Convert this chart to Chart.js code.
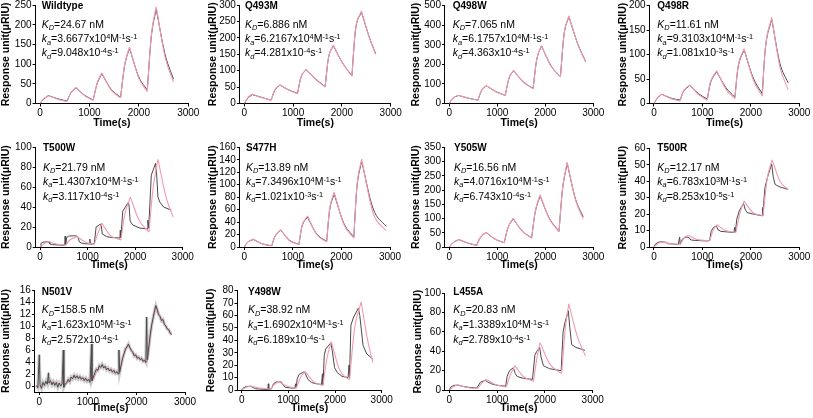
<!DOCTYPE html>
<html><head><meta charset="utf-8">
<script src="https://cdn.jsdelivr.net/npm/chart.js@4.4.0/dist/chart.umd.min.js"></script>
<style>
html,body{margin:0;padding:0;background:#fff;}
body{width:813px;height:418px;position:relative;overflow:hidden;font-family:'Liberation Sans',Arial,Helvetica,sans-serif;}
canvas{position:absolute;}
.lbl{position:absolute;white-space:nowrap;line-height:1;color:#000;font-size:10.5px;}
.nm{font-weight:bold;font-size:10px;}
.sb,.sp{position:relative;font-size:70%;line-height:1;}
.sb{top:0.3em}.sp{top:-0.45em}
</style></head><body>
<script>
// ---------- text ----------
const panelNames = ['Wildtype','Q493M','Q498W','Q498R','T500W','S477H','Y505W','T500R','N501V','Y498W','L455A'];
const kdNM   = ['24.67','6.886','7.065','11.61','21.79','13.89','16.56','12.17','158.5','38.92','20.83'];
const kaMant = ['3.6677','6.2167','6.1757','9.3103','1.4307','7.3496','4.0716','6.783','1.623','1.6902','1.3389'];
const kaExp  = ['4','4','4','4','4','4','4','3','5','4','4'];
const kdMant = ['9.048','4.281','4.363','1.081','3.117','1.021','6.743','8.253','2.572','6.189','2.789'];
const kdExp  = ['-4','-4','-4','-3','-4','-3','-4','-5','-4','-4','-4'];
const xTitle = 'Time(s)';
const yTitle = 'Response unit(\u03bcRIU)';

// ---------- ticks ----------
const xTicks = [0,1000,2000,3000];
const wtTicks = [0,50,100,150,200,250];
const qmTicks = [0,50,100,150,200,250,300];
const qwTicks = [0,100,200,300,400,500];
const qrTicks = [0,50,100,150,200];
const t5wTicks = [0,20,40,60,80,100];
const shTicks = [0,20,40,60,80,100,120,140,160];
const ywTicks = [0,50,100,150,200,250,300,350];
const t5rTicks = [0,10,20,30,40,50,60];
const nvTicks = [0,2,4,6,8,10,12,14,16];
const y8Ticks = [0,10,20,30,40,50,60,70,80];
const laTicks = [0,20,40,60,80,100];
const yMins = [0,0,0,0,0,0,0,0,-1,0,0];

// ---------- data ----------
// Wildtype
const wtT    = [0,80,170,360,545,625,730,900,1075,1155,1250,1440,1630,1710,1810,2000,2170,2250,2350,2530,2700];
const wtFit  = [0,13,20,11,5,28,41,20,8,52,78,34,14,97,144,64,30,172,247,118,55];
const wtMeas = [0,12,20,12,6,27,40,21,9,50,76,36,16,95,141,67,35,168,241,125,62];
// Q493M
const qmT    = [0,70,165,350,550,620,730,900,1090,1160,1265,1450,1655,1725,1825,2000,2205,2275,2400,2550,2690];
const qmFit  = [0,18,29,18,10,40,57,42,30,80,104,75,50,140,178,126,83,222,282,206,150];
const qmMeas = [0,16,27,19,10,39,56,42,31,79,103,76,51,139,176,127,84,219,279,207,152];
// Q498W
const qwT    = [0,75,190,400,595,670,770,970,1165,1240,1340,1540,1745,1820,1920,2120,2315,2390,2490,2680,2840];
const qwFit  = [0,28,42,27,17,66,92,60,41,128,170,110,76,225,297,190,136,355,448,300,212];
const qwMeas = [0,27,41,27,17,65,91,61,42,126,168,111,77,222,294,192,138,351,444,302,215];
// Q498R
const qrT    = [0,60,160,350,540,600,740,920,1100,1160,1295,1480,1670,1730,1860,2050,2235,2295,2430,2600,2770];
const qrFit  = [0,10,19,10,5,24,38,18,7,42,67,30,10,72,112,48,15,110,176,75,28];
const qrMeas = [0,10,19,11,7,23,37,20,9,40,65,33,13,70,110,52,20,108,173,82,42];
// T500W
const t5wMeasT = [0,20,60,150,190,205,260,400,520,528,540,560,600,700,780,800,830,870,950,1040,1048,1060,1140,1180,1270,1290,1310,1400,1500,1680,1688,1700,1740,1860,1875,1895,1950,2100,2260,2268,2285,2340,2430,2450,2480,2520,2600,2760];
const t5wMeas  = [0,3.5,4.8,5.2,5.0,3.0,2.4,2.0,1.8,11,2.0,9.5,10.8,11.3,11.0,9.5,5.0,4.0,3.3,3.0,8,2.8,3.0,20,23,21,13,10.5,9.5,9.0,17,9.5,36,45,40,26,22,19,18,27,19,72,84,75,50,45,40,37];
const t5wFitT  = [0,90,180,350,540,640,780,950,1140,1220,1300,1470,1700,1780,1900,2080,2290,2380,2480,2650,2800];
const t5wFit   = [0,3.5,5.5,3,2,7.5,10.5,5,2.5,14,24,12,7,32,50,27,15,60,88,50,30];
// S477H
const shT    = [0,60,185,370,565,625,750,930,1125,1185,1300,1490,1695,1755,1850,2050,2255,2315,2415,2650,2920];
const shFit  = [0,7,13,5,2,16,28,10,4,33,50,20,8,60,88,36,14,95,141,55,26];
const shMeas = [0,7,12,5,2,16,27,11,4,32,48,21,9,58,85,38,16,92,138,62,33];
// Y505W
const ywT    = [0,70,200,380,570,640,765,950,1145,1215,1330,1520,1715,1785,1890,2080,2285,2355,2455,2630,2790];
const ywFit  = [0,14,27,14,6,32,52,28,15,65,101,55,31,120,184,100,53,200,298,165,98];
const ywMeas = [0,14,26,14,6,31,51,28,15,64,99,56,32,118,180,102,55,196,294,168,106];
// T500R
const t5rMeasT = [0,20,80,150,260,280,400,500,530,540,580,620,700,730,760,850,1000,1110,1150,1180,1230,1290,1320,1380,1500,1650,1665,1680,1710,1760,1850,1880,1920,2050,2230,2240,2250,2290,2340,2430,2460,2500,2600,2770];
const t5rMeas  = [0,1.5,2.8,3.2,2.8,2.0,1.8,1.5,6,1.5,4.5,5.8,6.0,5.5,4.3,4.0,3.8,3.7,4.0,9.5,12,12.8,10.5,9.5,9.2,8.8,12,9,17,22,26.5,23,21,20,19,24,19,36,42,50.5,43,38,36.5,35];
const t5rFitT  = [0,100,180,360,540,640,720,900,1150,1220,1300,1480,1690,1770,1860,2040,2250,2340,2440,2600,2770];
const t5rFit   = [0,2.5,3,2,1.5,6,7,4.5,3.8,10,13.5,10,8.8,20,28,21,19,42,53,40,35];
// N501V
const nvMeasT = [-60,-30,0,15,45,75,105,135,165,190,
  200,230,260,290,320,350,380,410,440,470,
  495,505,535,565,595,625,655,685,715,745,
  775,805,835,865,895,925,955,985,1015,1045,
  1075,1085,1115,1145,1175,1205,1235,1265,1295,1325,
  1355,1385,1415,1445,1475,1505,1535,1565,1595,1625,
  1640,1655,1685,1715,1745,1775,1805,1835,1865,1895,
  1925,1955,1985,2015,2045,2075,2105,2135,2165,2195,
  2210,2225,2255,2285,2315,2345,2375,2400,2425,2455,
  2485,2515,2545,2575,2605,2635,2665,2695,2725];
const nvMeas = [0.1,-0.3,5.2,0.2,-0.4,0.6,0.1,0.8,0.3,2.2,
  0.5,0.9,0.2,0.7,0.1,0.6,-0.2,0.5,0.0,0.4,
  6.0,-0.2,0.3,0.6,1.1,0.7,1.5,1.2,1.8,1.3,
  1.7,1.2,1.6,1.1,1.4,0.9,1.3,0.8,1.1,0.6,
  7.0,0.9,1.5,2.2,2.8,2.6,3.4,3.1,3.6,3.0,
  3.3,2.7,3.0,2.5,2.8,2.3,2.6,2.1,2.4,2.0,
  6.0,2.3,3.5,4.6,5.4,6.2,6.5,7.0,6.4,5.9,
  5.6,5.0,5.2,4.6,4.8,4.4,4.6,4.1,4.3,3.9,
  11.5,4.4,6.5,8.6,10.2,11.4,12.6,13.4,12.8,11.9,
  11.6,10.9,11.1,10.3,10.0,9.5,9.4,8.8,8.6];
const nvFitT = [0,90,180,360,545,635,725,900,1100,1190,1285,1450,1650,1740,1830,2000,2225,2315,2400,2560,2730];
const nvFit  = [0,0.3,0.5,0.4,0.3,1.0,1.6,1.2,0.9,2.5,3.4,2.7,2.1,5.2,6.8,5.0,4.0,10.0,13.2,10.5,8.5];
// Y498W
const y8MeasT = [0,30,100,200,240,300,450,560,570,580,640,680,740,850,890,930,1050,1140,1155,1165,1190,1230,1330,1360,1420,1500,1600,1710,1730,1740,1770,1800,1910,1940,1990,2050,2150,2280,2300,2310,2340,2390,2500,2530,2600,2680,2810];
const y8Meas  = [0,1.5,2.8,3.0,2.0,1.0,0.6,0.5,5,0.5,1,5,6.5,6.5,4,2.2,1.6,1.5,5,1.5,9,12.5,14.5,13.5,8.5,6,5,4.5,13,4.5,28,33,38,32,18,14,11,10,20,10,52,58,66,60,36,29,25];
const y8FitT  = [0,90,190,380,620,700,790,980,1170,1260,1360,1530,1740,1830,1920,2100,2310,2420,2560,2700,2810];
const y8Fit   = [0,2,3.2,1.5,0.8,4.5,6.8,3,1.5,10,15,7,3.5,26,39,16,8,50,71,40,22];
// L455A
const laMeasT = [0,30,100,180,280,400,570,590,650,750,800,900,1050,1180,1210,1260,1340,1380,1420,1550,1740,1790,1830,1890,1920,1970,2100,2340,2380,2420,2490,2520,2560,2650,2840];
const laMeas  = [0,3,4.8,5,3.8,2.8,2,3,8,10,8.5,6,4.5,4,14,20,23,17,14,12,11,36,40,44,34,25,22,20,60,70,82,65,47,44,41];
const laFitT  = [0,90,180,380,590,680,770,950,1190,1280,1375,1550,1760,1840,1900,2100,2350,2430,2500,2680,2850];
const laFit   = [0,3.5,5.5,2.5,1.5,7,11,6,3,16,25,14,9,35,49,27,17,65,89,55,35];

// ---------- assembly ----------
const FONT = "'Liberation Sans', Arial, Helvetica, sans-serif";
const XMIN = -90;
// pairs time/value; optionally breaks the spline at each turning point (sharp injection corners)
function pts(t, v, brk){
  const n = Math.min(t.length, v.length), a = [];
  for (let i = 0; i < n; i++) {
    a.push({x: t[i], y: v[i]});
    if (brk && i > 0 && i < n - 1 && (v[i] - v[i-1]) * (v[i+1] - v[i]) < 0) {
      a.push({x: t[i], y: null});
      a.push({x: t[i], y: v[i]});
    }
  }
  return a;
}

const series = [
  {mT:wtT, m:wtMeas, fT:wtT, f:wtFit, ticks:wtTicks, smooth:true},
  {mT:qmT, m:qmMeas, fT:qmT, f:qmFit, ticks:qmTicks, smooth:true},
  {mT:qwT, m:qwMeas, fT:qwT, f:qwFit, ticks:qwTicks, smooth:true},
  {mT:qrT, m:qrMeas, fT:qrT, f:qrFit, ticks:qrTicks, smooth:true},
  {mT:t5wMeasT, m:t5wMeas, fT:t5wFitT, f:t5wFit, ticks:t5wTicks, smooth:false},
  {mT:shT, m:shMeas, fT:shT, f:shFit, ticks:shTicks, smooth:true},
  {mT:ywT, m:ywMeas, fT:ywT, f:ywFit, ticks:ywTicks, smooth:true},
  {mT:t5rMeasT, m:t5rMeas, fT:t5rFitT, f:t5rFit, ticks:t5rTicks, smooth:false},
  {mT:nvMeasT, m:nvMeas, fT:nvFitT, f:nvFit, ticks:nvTicks, smooth:false, measTop:true, band:true},
  {mT:y8MeasT, m:y8Meas, fT:y8FitT, f:y8Fit, ticks:y8Ticks, smooth:false},
  {mT:laMeasT, m:laMeas, fT:laFitT, f:laFit, ticks:laTicks, smooth:false},
];

// layout (pixel positions of each panel)
const geom = [
 {x0:40,    x3:188.3, yT:5.3,   yB:103.5, ytx:6,     xty:123, tx:41.7,  row:0},
 {x0:244.3, x3:390.7, yT:5,     yB:103.5, ytx:213.3, xty:123, tx:245,   row:0},
 {x0:449.3, x3:593.3, yT:5.7,   yB:103.5, ytx:416.7, xty:123, tx:452.7, row:0},
 {x0:654,   x3:799.3, yT:5.7,   yB:103.5, ytx:623.3, xty:123, tx:657.3, row:0},
 {x0:40,    x3:182.7, yT:147.3, yB:247,   ytx:6,     xty:265, tx:43,    row:1},
 {x0:244.3, x3:390,   yT:147.3, yB:247,   ytx:213.3, xty:265, tx:246,   row:1},
 {x0:449.3, x3:593.3, yT:147.3, yB:247,   ytx:416.7, xty:265, tx:454,   row:1},
 {x0:654,   x3:799.3, yT:148.3, yB:247,   ytx:623.3, xty:265, tx:657.3, row:1},
 {x0:39.3,  x3:185,   yT:290,   yB:392,   ytx:6,     xty:408, tx:41.7,  row:2},
 {x0:241.7, x3:381.7, yT:290.7, yB:390,   ytx:211.7, xty:408, tx:248,   row:2},
 {x0:449.3, x3:592.7, yT:293.3, yB:390,   ytx:418.3, xty:408, tx:453.3, row:2},
];
const rowBase = [[9.3,28,42.3,56.3],[151.5,170.5,185,200],[295,313.3,327.7,342.7]];

const MEAS_COLOR = '#4a4a4a';
const FIT_COLOR = '#f29bb0';

series.forEach((s, i) => {
  const g = geom[i];
  const plotLeft = g.x0 - (0 - XMIN) * (g.x3 - g.x0) / 3000;
  const cx = Math.round(g.ytx - 6.3);
  const cy = Math.round(g.yT - 8);
  const ch = Math.round(g.xty + 6.3 - cy);
  const cw = Math.round(g.x3 + 14 - cx);
  const cv = document.createElement('canvas');
  cv.width = cw; cv.height = ch;
  cv.style.left = cx + 'px'; cv.style.top = cy + 'px';
  cv.style.width = cw + 'px'; cv.style.height = ch + 'px';
  document.body.appendChild(cv);

  const measDs = {data: pts(s.mT, s.m, s.smooth), borderColor: MEAS_COLOR, borderWidth: 1, pointRadius: 0,
    fill: false, spanGaps: false, tension: 0, cubicInterpolationMode: s.smooth ? 'monotone' : 'default'};
  const fitDs = {data: pts(s.fT, s.f, true), borderColor: FIT_COLOR, borderWidth: 1.1, pointRadius: 0,
    fill: false, spanGaps: false, tension: 0, cubicInterpolationMode: 'monotone'};
  let ds = s.measTop ? [measDs, fitDs] : [fitDs, measDs];
  if (s.band) {
    ds.push({data: pts(s.mT, s.m, false), borderColor: 'rgba(140,140,140,0.45)', borderWidth: 3.2, pointRadius: 0, fill: false, tension: 0});
  }
  const tk = s.ticks;
  new Chart(cv, {
    type: 'line',
    data: {datasets: ds},
    options: {
      responsive: false, animation: false, devicePixelRatio: 1,
      layout: {padding: {left: 0, top: g.yT - cy, right: (cx + cw) - g.x3, bottom: 0}},
      plugins: {legend: {display: false}, tooltip: {enabled: false}},
      scales: {
        x: {
          type: 'linear', min: XMIN, max: 3000,
          afterBuildTicks: sc => { sc.ticks = xTicks.map(v => ({value: v})); },
          afterFit: sc => { sc.height = (cy + ch) - g.yB; },
          grid: {display: true, drawOnChartArea: false, drawTicks: true, tickLength: 3, color: '#000', lineWidth: 1},
          border: {display: true, color: '#000', width: 1},
          ticks: {color: '#000', font: {family: FONT, size: 10}, padding: 1, maxRotation: 0, autoSkip: false,
                  callback: v => String(v)},
          title: {display: true, text: xTitle, color: '#000', font: {family: FONT, size: 10.5, weight: 'bold'}, padding: 0}
        },
        y: {
          type: 'linear', min: yMins[i], max: tk[tk.length - 1],
          afterBuildTicks: sc => { sc.ticks = tk.map(v => ({value: v})); },
          afterFit: sc => { sc.width = plotLeft - cx; },
          grid: {display: true, drawOnChartArea: false, drawTicks: true, tickLength: 3, color: '#000', lineWidth: 1},
          border: {display: true, color: '#000', width: 1},
          ticks: {color: '#000', font: {family: FONT, size: 10}, padding: 1, autoSkip: false,
                  callback: v => String(v)},
          title: {display: true, text: yTitle, color: '#000', font: {family: FONT, size: 10.5, weight: 'bold'}, padding: 0}
        }
      }
    }
  });

  // annotations
  const rb = rowBase[g.row];
  const lines = [
    {cls: 'lbl nm', fs: 10, html: panelNames[i]},
    {cls: 'lbl', fs: 10.5, html: '<i>K</i><span class="sb"><i>D</i></span>=' + kdNM[i] + ' nM'},
    {cls: 'lbl', fs: 10.5, html: '<i>k</i><span class="sb"><i>a</i></span>=' + kaMant[i] + 'x10<span class="sp">' + kaExp[i] + '</span>M<span class="sp">-1</span>s<span class="sp">-1</span>'},
    {cls: 'lbl', fs: 10.5, html: '<i>k</i><span class="sb"><i>d</i></span>=' + kdMant[i] + 'x10<span class="sp">' + kdExp[i] + '</span>s<span class="sp">-1</span>'}
  ];
  lines.forEach((l, j) => {
    const d = document.createElement('div');
    d.className = l.cls;
    d.style.left = (g.tx) + 'px';
    d.style.top = (rb[j] - 0.8465 * l.fs) + 'px';
    d.innerHTML = l.html;
    document.body.appendChild(d);
  });
});
</script>
</body></html>
